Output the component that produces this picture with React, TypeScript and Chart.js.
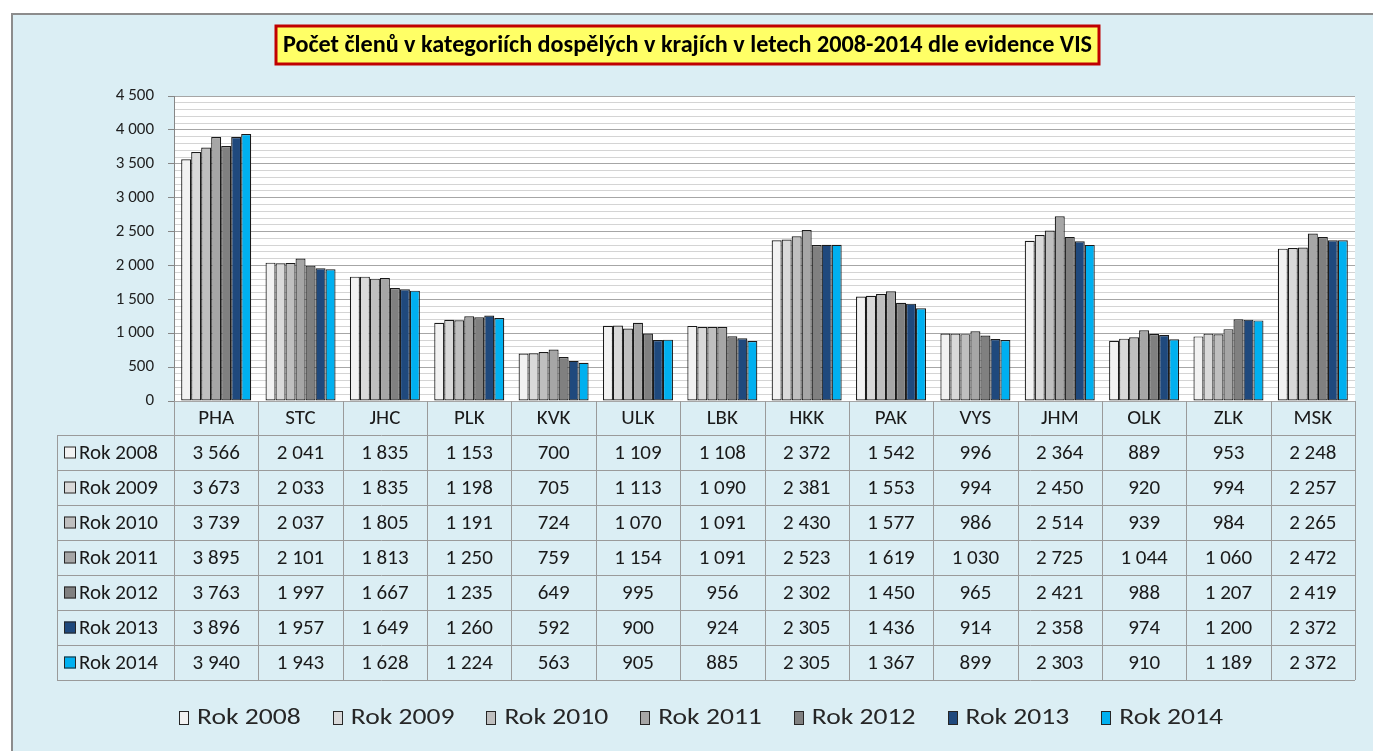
import { useEffect, useRef } from 'react';
import { Chart, registerables } from 'chart.js';

Chart.register(...registerables);

const FONT = 'Carlito, Lato, "Open Sans", sans-serif';

const titleText = 'Počet členů v kategoriích dospělých v krajích v letech 2008-2014 dle evidence VIS';

const categories = ['PHA', 'STC', 'JHC', 'PLK', 'KVK', 'ULK', 'LBK', 'HKK', 'PAK', 'VYS', 'JHM', 'OLK', 'ZLK', 'MSK'];

const seriesLabels = ['Rok 2008', 'Rok 2009', 'Rok 2010', 'Rok 2011', 'Rok 2012', 'Rok 2013', 'Rok 2014'];

const rok2008 = [3566, 2041, 1835, 1153, 700, 1109, 1108, 2372, 1542, 996, 2364, 889, 953, 2248];
const rok2009 = [3673, 2033, 1835, 1198, 705, 1113, 1090, 2381, 1553, 994, 2450, 920, 994, 2257];
const rok2010 = [3739, 2037, 1805, 1191, 724, 1070, 1091, 2430, 1577, 986, 2514, 939, 984, 2265];
const rok2011 = [3895, 2101, 1813, 1250, 759, 1154, 1091, 2523, 1619, 1030, 2725, 1044, 1060, 2472];
const rok2012 = [3763, 1997, 1667, 1235, 649, 995, 956, 2302, 1450, 965, 2421, 988, 1207, 2419];
const rok2013 = [3896, 1957, 1649, 1260, 592, 900, 924, 2305, 1436, 914, 2358, 974, 1200, 2372];
const rok2014 = [3940, 1943, 1628, 1224, 563, 905, 885, 2305, 1367, 899, 2303, 910, 1189, 2372];

const seriesValues = [rok2008, rok2009, rok2010, rok2011, rok2012, rok2013, rok2014];

const yMin = 0;
const yMax = 4500;
const yMajorStep = 500;
const yMinorStep = 100;

const seriesColors = ['#F2F2F2', '#D9D9D9', '#BFBFBF', '#A6A6A6', '#808080', '#1F497D', '#00B0F0'];

const fmt = (v: number) => String(v).replace(/\B(?=(\d{3})+(?!\d))/g, ' ');

const W = 1373;
const H = 751;

const backgroundPlugin = {
  id: 'bgPlugin',
  beforeDraw(chart: any) {
    const ctx = chart.ctx;
    const a = chart.chartArea;
    ctx.save();
    ctx.fillStyle = '#FFFFFF';
    ctx.fillRect(0, 0, W, H);
    ctx.fillStyle = '#DBEEF4';
    ctx.fillRect(12, 14, W, H);
    ctx.strokeStyle = '#8C8C8C';
    ctx.lineWidth = 2;
    ctx.strokeRect(12, 14, W + 10, H + 10);
    ctx.fillStyle = '#FFFFFF';
    ctx.fillRect(a.left, a.top, a.right - a.left, a.bottom - a.top);
    ctx.restore();
  },
};

const titlePlugin = {
  id: 'titlePlugin',
  afterDraw(chart: any) {
    const ctx = chart.ctx;
    ctx.save();
    const x0 = 276, y0 = 26, x1 = 1099, y1 = 64;
    ctx.fillStyle = '#FFFF66';
    ctx.fillRect(x0, y0, x1 - x0, y1 - y0);
    ctx.strokeStyle = '#C00000';
    ctx.lineWidth = 3;
    ctx.strokeRect(x0, y0, x1 - x0, y1 - y0);
    ctx.fillStyle = '#000000';
    ctx.font = `bold 20px ${FONT}`;
    const w = ctx.measureText(titleText).width;
    const size = Math.min(26, (20 * 808) / w);
    ctx.font = `bold ${size.toFixed(1)}px ${FONT}`;
    ctx.textAlign = 'center';
    ctx.textBaseline = 'middle';
    ctx.fillText(titleText, (x0 + x1) / 2, (y0 + y1) / 2 + 1);
    ctx.restore();
  },
};

const tablePlugin = {
  id: 'tablePlugin',
  afterDraw(chart: any) {
    const ctx = chart.ctx;
    const xs = chart.scales.x;
    const a = chart.chartArea;
    const n = categories.length;
    const colW = (a.right - a.left) / n;
    const top = a.bottom;
    const headerBottom = top + 34;
    const rowH = 35;
    const tableLeft = 57;
    const nRows = seriesLabels.length;
    const tableBottom = headerBottom + rowH * nRows;
    const px = (v: number) => Math.round(v) + 0.5;

    ctx.save();
    ctx.strokeStyle = '#9A9A9A';
    ctx.lineWidth = 1;
    ctx.beginPath();
    for (let i = 0; i <= n; i++) {
      const x = px(a.left + i * colW);
      ctx.moveTo(x, top);
      ctx.lineTo(x, tableBottom);
    }
    ctx.moveTo(px(tableLeft), headerBottom);
    ctx.lineTo(px(tableLeft), tableBottom);
    for (let r = 0; r <= nRows; r++) {
      const y = px(headerBottom + r * rowH);
      ctx.moveTo(tableLeft, y);
      ctx.lineTo(a.right, y);
    }
    ctx.stroke();

    ctx.fillStyle = '#1A1A1A';
    ctx.textAlign = 'center';
    ctx.textBaseline = 'middle';
    ctx.font = `21px ${FONT}`;
    categories.forEach((c, i) => {
      const cx = xs.getPixelForValue(i);
      ctx.fillText(c, cx, (top + headerBottom) / 2 + 1);
    });

    seriesValues.forEach((vals, r) => {
      const cy = headerBottom + r * rowH + rowH / 2 + 1;
      ctx.fillStyle = '#1A1A1A';
      ctx.textAlign = 'center';
      vals.forEach((v, i) => {
        const cx = xs.getPixelForValue(i);
        ctx.fillText(fmt(v), cx, cy);
      });
      ctx.fillStyle = seriesColors[r];
      ctx.fillRect(64, cy - 7, 12, 12);
      ctx.strokeStyle = '#262626';
      ctx.strokeRect(64.5, cy - 6.5, 11, 11);
      ctx.fillStyle = '#1A1A1A';
      ctx.textAlign = 'left';
      ctx.fillText(seriesLabels[r], 79, cy);
    });
    ctx.restore();
  },
};

const legendPlugin = {
  id: 'legendPlugin',
  afterDraw(chart: any) {
    const ctx = chart.ctx;
    ctx.save();
    const fontSize = 23;
    const stretch = 1.2;
    ctx.font = `${fontSize}px ${FONT}`;
    const boxW = 9, boxH = 13, boxGap = 9, itemGap = 32;
    const textW = seriesLabels.map((l) => ctx.measureText(l).width * stretch);
    const widths = textW.map((t) => boxW + boxGap + t);
    const total = widths.reduce((s, w) => s + w, 0) + itemGap * (widths.length - 1);
    let x = 701 - total / 2;
    const cy = 717;
    ctx.textBaseline = 'middle';
    ctx.textAlign = 'left';
    seriesLabels.forEach((l, i) => {
      const bx = Math.round(x);
      ctx.fillStyle = seriesColors[i];
      ctx.fillRect(bx, Math.round(cy - boxH / 2), boxW, boxH);
      ctx.strokeStyle = '#262626';
      ctx.lineWidth = 1;
      ctx.strokeRect(bx + 0.5, Math.round(cy - boxH / 2) + 0.5, boxW, boxH);
      ctx.fillStyle = '#262626';
      ctx.save();
      ctx.translate(x + boxW + boxGap, cy + 1);
      ctx.scale(stretch, 1);
      ctx.fillText(l, 0, 0);
      ctx.restore();
      x += widths[i] + itemGap;
    });
    ctx.restore();
  },
};

export default function App() {
  const ref = useRef<HTMLCanvasElement | null>(null);

  useEffect(() => {
    if (!ref.current) return;
    const chart = new Chart(ref.current, {
      type: 'bar',
      data: {
        labels: categories,
        datasets: seriesLabels.map((label, i) => ({
          label,
          data: seriesValues[i],
          backgroundColor: seriesColors[i],
          borderColor: '#1A1A1A',
          borderWidth: 1.2,
          borderSkipped: false,
          barPercentage: 1,
          categoryPercentage: 0.83,
        })),
      },
      options: {
        responsive: false,
        animation: false,
        devicePixelRatio: 1,
        layout: { padding: { left: 114, top: 96, right: 18, bottom: 350 } },
        plugins: {
          legend: { display: false },
          title: { display: false },
          tooltip: { enabled: false },
        },
        scales: {
          x: { display: false, offset: true },
          y: {
            min: yMin,
            max: yMax,
            afterFit: (s: any) => {
              s.width = 60;
            },
            ticks: {
              stepSize: yMinorStep,
              autoSkip: false,
              padding: 14,
              color: '#1F1F1F',
              font: { family: FONT, size: 17 },
              callback: (v: any) => (Number(v) % yMajorStep === 0 ? fmt(Number(v)) : ''),
            },
            grid: {
              color: (c: any) => (c.tick && c.tick.value % yMajorStep === 0 ? '#A6A6A6' : '#D4D4D4'),
              tickColor: (c: any) => (c.tick && c.tick.value % yMajorStep === 0 ? '#868686' : 'rgba(0,0,0,0)'),
              tickLength: 6,
              lineWidth: 1,
            },
            border: { color: '#868686' },
          },
        },
      },
      plugins: [backgroundPlugin, titlePlugin, tablePlugin, legendPlugin],
    });
    return () => chart.destroy();
  }, []);

  return (
    <div style={{ position: 'absolute', left: 0, top: 0, width: W, height: H }}>
      <canvas ref={ref} width={W} height={H} style={{ display: 'block' }} />
    </div>
  );
}
